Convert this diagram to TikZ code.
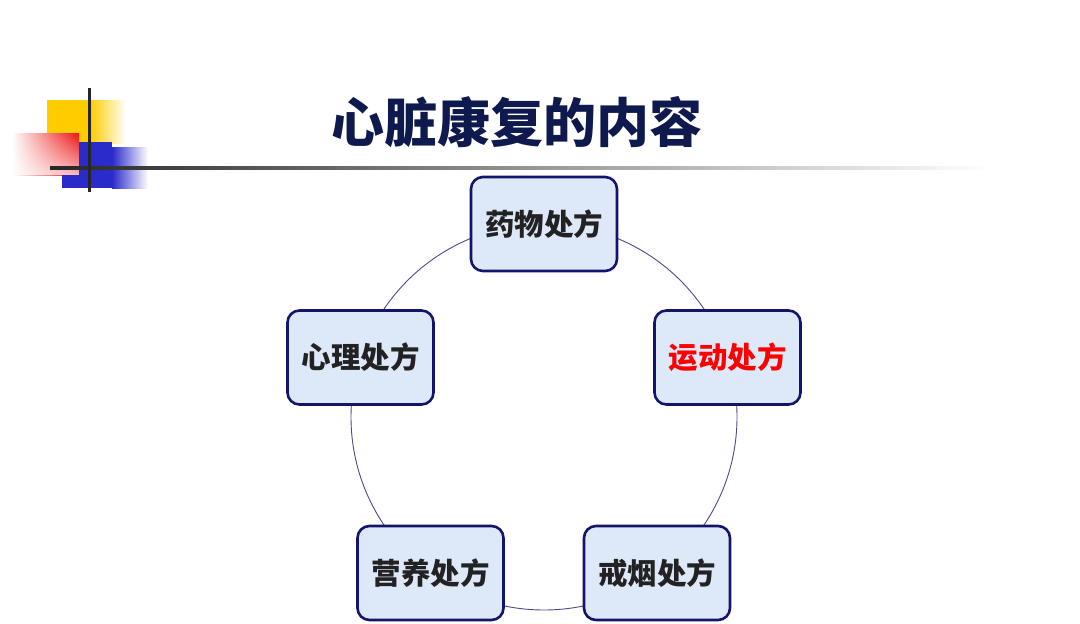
\documentclass[tikz,border=0pt]{standalone}
\usepackage{fontspec}
\newfontfamily\cjk{Noto Sans CJK SC}
\usetikzlibrary{fadings}
\definecolor{navy}{HTML}{14146A}
\definecolor{ring}{HTML}{4A4A8C}
\definecolor{boxfill}{HTML}{DDE8F8}
\definecolor{titlec}{HTML}{0E1A4E}
\definecolor{txt}{HTML}{222222}
\definecolor{yel}{HTML}{FFCC00}
\definecolor{blu}{HTML}{2B2BCC}
\definecolor{rd}{HTML}{EE1111}
\tikzset{
  rx/.style={draw=navy, line width=2.6pt, fill=boxfill, rounded corners=12pt,
    minimum width=146pt, minimum height=94pt, inner sep=0pt,
    font=\cjk\bfseries\fontsize{29.5}{31}\selectfont, text=txt},
  ringline/.style={draw=ring, line width=0.9pt}
}
\begin{document}
\begin{tikzpicture}[x=1pt,y=-1pt]
\useasboundingbox (0,0) rectangle (1080,624);
\fill[white] (0,0) rectangle (1080,624);
% decoration
\fill[yel] (47,100) rectangle (90,143);
\shade[left color=yel, right color=white] (90,100) rectangle (126,143);
\shade[left color=white, right color=rd] (12,133) rectangle (79,175);
\fill[white, path fading=north, opacity=0.7] (12,133) rectangle (79,175);
\fill[blu] (62,175) rectangle (79,188);
\fill[blu] (79,142) rectangle (112,188);
\shade[left color=blu, right color=white] (112,147) rectangle (148,188);
\shade[left color=black!85, middle color=black!50, right color=white] (50,166.5) rectangle (990,169);
\fill[black!85] (87.5,88) rectangle (90.5,192);
% title
\node[font=\cjk\bfseries\fontsize{53}{56}\selectfont, text=titlec] (title) at (517,122) {心脏康复的内容};
% ring
\coordinate (c) at (544,417);
\draw[ringline] (c) circle (193);
% boxes
\node[rx] (yw) at (544,224) {药物处方};
\node[rx, text=red] (yd) at (727.5,357.5) {运动处方};
\node[rx] (xl) at (360.5,357.5) {心理处方};
\node[rx] (yy) at (430.5,573) {营养处方};
\node[rx] (jy) at (657,573) {戒烟处方};
\end{tikzpicture}
\end{document}
